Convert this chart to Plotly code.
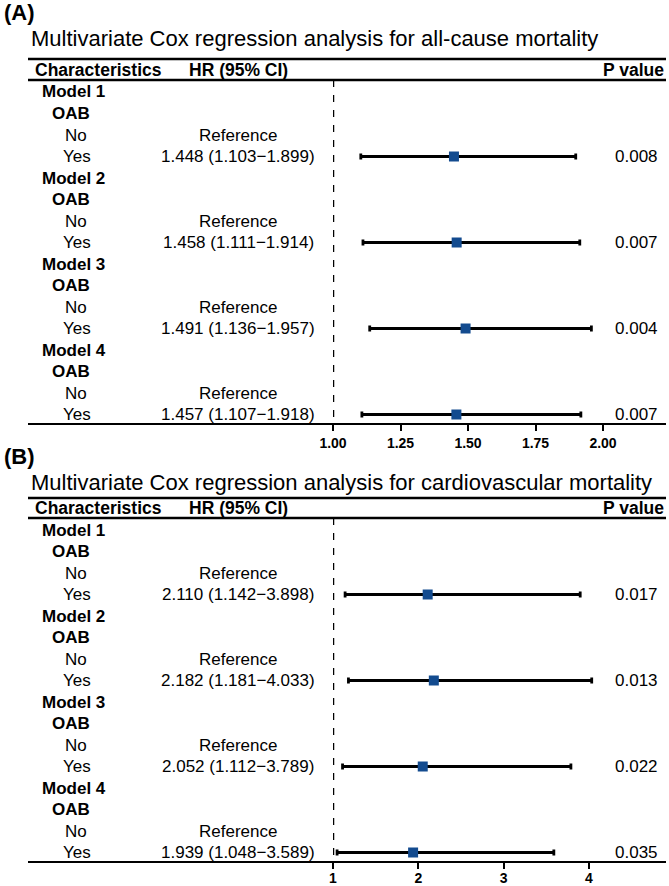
import plotly.graph_objects as go

W, H = 669, 886

# ---------------- data ----------------
models = ["Model 1", "Model 2", "Model 3", "Model 4"]
group_label = "OAB"
levels = ["No", "Yes"]
ref_text = "Reference"

hr_a = [1.448, 1.458, 1.491, 1.457]
lo_a = [1.103, 1.111, 1.136, 1.107]
hi_a = [1.899, 1.914, 1.957, 1.918]
p_a = ["0.008", "0.007", "0.004", "0.007"]

hr_b = [2.110, 2.182, 2.052, 1.939]
lo_b = [1.142, 1.181, 1.112, 1.048]
hi_b = [3.898, 4.033, 3.789, 3.589]
p_b = ["0.017", "0.013", "0.022", "0.035"]

ticks_a = [1.00, 1.25, 1.50, 1.75, 2.00]
ticklabels_a = ["1.00", "1.25", "1.50", "1.75", "2.00"]
ticks_b = [1, 2, 3, 4]
ticklabels_b = ["1", "2", "3", "4"]

title_a = "Multivariate Cox regression analysis for all-cause mortality"
title_b = "Multivariate Cox regression analysis for cardiovascular mortality"
headers = ["Characteristics", "HR (95% CI)", "P value"]

# ---------------- layout helpers ----------------
FONT = "Liberation Sans, Arial, Helvetica, sans-serif"
BLUE = "#134b8f"
ROW = 21.5


def py(px):
    return 1 - px / H


def pxx(px):
    return px / W


panels = [
    dict(hr=hr_a, lo=lo_a, hi=hi_a, p=p_a, letter="(A)", title=title_a,
         xr=[1.0, 1.0 + 333 / 270.0], ticks=ticks_a, tl=ticklabels_a,
         lab_y=12, title_y=38, top_line=59, head_y=70, head_line=80,
         row0=92, bottom=424, standoff=0),
    dict(hr=hr_b, lo=lo_b, hi=hi_b, p=p_b, letter="(B)", title=title_b,
         xr=[1.0, 1.0 + 333 / 85.3], ticks=ticks_b, tl=ticklabels_b,
         lab_y=456, title_y=482, top_line=498, head_y=508, head_line=518,
         row0=530, bottom=862, standoff=-3),
]

fig = go.Figure()
annotations = []
shapes = []

for k, pn in enumerate(panels):
    sfx = "" if k == 0 else str(k + 1)
    xa, ya = "x" + sfx, "y" + sfx
    yes_rows = [4 * i + 3 for i in range(len(models))]

    err_plus = [h - m for h, m in zip(pn["hi"], pn["hr"])]
    err_minus = [m - l for m, l in zip(pn["hr"], pn["lo"])]
    fig.add_trace(go.Scatter(
        x=pn["hr"], y=yes_rows, mode="markers",
        marker=dict(symbol="square", size=10, color=BLUE, line=dict(width=0)),
        error_x=dict(type="data", symmetric=False, array=err_plus,
                     arrayminus=err_minus, color="black", thickness=2.8, width=3),
        xaxis=xa, yaxis=ya, showlegend=False, hoverinfo="skip",
    ))

    top_val = (pn["head_line"] - pn["row0"]) / ROW
    bot_val = (pn["bottom"] - pn["row0"]) / ROW
    xaxis = dict(
        domain=[pxx(333), pxx(666)], range=pn["xr"], anchor=ya,
        tickmode="array", tickvals=pn["ticks"], ticktext=pn["tl"],
        ticks="outside", ticklen=6, tickwidth=2, tickcolor="black",
        ticklabelstandoff=pn["standoff"],
        showgrid=False, zeroline=False, showline=False, automargin=False,
        tickfont=dict(family=FONT, size=14, color="black", weight="bold"),
        fixedrange=True,
    )
    yaxis = dict(
        domain=[py(pn["bottom"]), py(pn["head_line"])], range=[bot_val, top_val],
        anchor=xa, visible=False, fixedrange=True, automargin=False,
    )
    fig.layout["xaxis" + sfx] = xaxis
    fig.layout["yaxis" + sfx] = yaxis

    # reference line at HR = 1
    shapes.append(dict(type="line", xref=xa, yref=ya, x0=1, x1=1,
                       y0=top_val, y1=bot_val,
                       line=dict(color="black", width=2.5, dash="7px,8px")))
    # table rules
    for yy, wd in [(pn["top_line"], 2.5), (pn["head_line"], 2.5), (pn["bottom"], 2.2)]:
        shapes.append(dict(type="line", xref="paper", yref="paper",
                           x0=pxx(28), x1=pxx(666), y0=py(yy), y1=py(yy),
                           line=dict(color="black", width=wd)))

    # panel letter and title
    annotations.append(dict(text="<b>" + pn["letter"] + "</b>", xref="paper", yref="paper",
                            x=pxx(2), y=py(pn["lab_y"]), xanchor="left", yanchor="middle",
                            showarrow=False, font=dict(family=FONT, size=22, color="black")))
    annotations.append(dict(text=pn["title"], xref="paper", yref="paper",
                            x=pxx(29), y=py(pn["title_y"]), xanchor="left", yanchor="middle",
                            showarrow=False, font=dict(family=FONT, size=22, color="black")))
    # headers
    hx = [(pxx(33), "left"), (pxx(238), "center"), (pxx(666), "right")]
    for txt, (xx, anc) in zip(headers, hx):
        annotations.append(dict(text="<b>" + txt + "</b>", xref="paper", yref="paper",
                                x=xx, y=py(pn["head_y"]), xanchor=anc, yanchor="middle",
                                showarrow=False, font=dict(family=FONT, size=17.5, color="black")))
    # rows
    for i, m in enumerate(models):
        base = 4 * i
        rows = [
            (base, "<b>" + m + "</b>", 73.5, None, None),
            (base + 1, "<b>" + group_label + "</b>", 71, None, None),
            (base + 2, levels[0], 76, ref_text, None),
            (base + 3, levels[1], 77,
             "%.3f (%.3f\u2212%.3f)" % (pn["hr"][i], pn["lo"][i], pn["hi"][i]), pn["p"][i]),
        ]
        for r, lab, cx, hrt, pt in rows:
            annotations.append(dict(text=lab, xref="paper", yref=ya, x=pxx(cx), y=r,
                                    xanchor="center", yanchor="middle", showarrow=False,
                                    font=dict(family=FONT, size=17, color="black")))
            if hrt:
                annotations.append(dict(text=hrt, xref="paper", yref=ya, x=pxx(238), y=r,
                                        xanchor="center", yanchor="middle", showarrow=False,
                                        font=dict(family=FONT, size=17, color="black")))
            if pt:
                annotations.append(dict(text=pt, xref="paper", yref=ya, x=pxx(636), y=r,
                                        xanchor="center", yanchor="middle", showarrow=False,
                                        font=dict(family=FONT, size=17, color="black")))

fig.update_layout(
    width=W, height=H, margin=dict(l=0, r=0, t=0, b=0, pad=0, autoexpand=False),
    paper_bgcolor="white", plot_bgcolor="white",
    annotations=annotations, shapes=shapes,
    font=dict(family=FONT, color="black"),
)

fig.write_html("out.html")
